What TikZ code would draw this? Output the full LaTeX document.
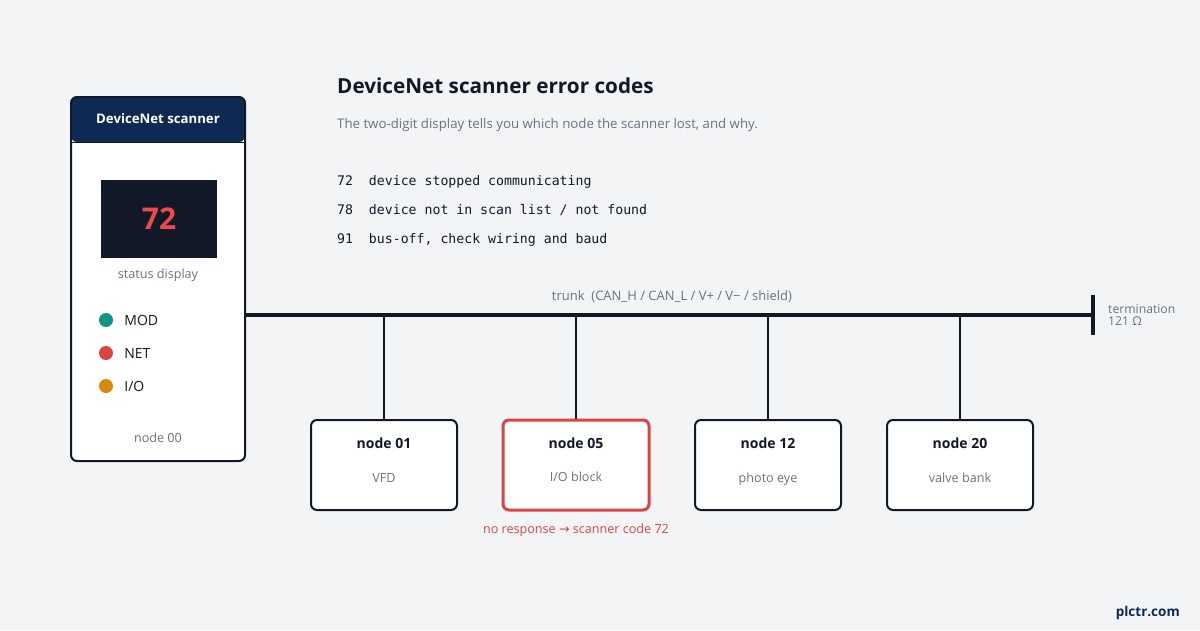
\documentclass[tikz,border=0pt]{standalone}
\usepackage{fontspec}
\setmainfont{Open Sans}
\setmonofont{DejaVu Sans Mono}
\newfontfamily\symfont{DejaVu Sans}
\usetikzlibrary{positioning,calc}
\definecolor{bgc}{HTML}{F3F4F6}
\definecolor{ink}{HTML}{111827}
\definecolor{navy}{HTML}{0F2A52}
\definecolor{mute}{HTML}{6B7280}
\definecolor{alert}{HTML}{DC4444}
\definecolor{digit}{HTML}{F04848}
\definecolor{ledteal}{HTML}{0F9582}
\definecolor{ledamber}{HTML}{D98A0C}
\newcommand{\fsz}[1]{\fontsize{#1}{#1}\selectfont}

\begin{document}
\begin{tikzpicture}[
  x=1pt, y=-1pt,
  txt/.style={inner sep=0pt, text=ink, font=\fsz{#1}},
  txt/.default=14,
  note/.style={inner sep=0pt, text=mute, font=\fsz{12.6}, text height=14pt, text depth=3pt},
  nbox/.style={draw=ink, line width=2pt, rounded corners=6pt, fill=white, minimum width=146pt, minimum height=90pt},
  nboxerr/.style={nbox, draw=alert, line width=3pt},
  led/.style={circle, fill=#1, minimum size=14pt, inner sep=0pt},
  trunk/.style={ink, line width=4pt},
  drop/.style={ink, line width=2pt}]
\useasboundingbox[fill=bgc] (0,0) rectangle (1200,630);
\node[draw=ink, line width=2pt, rounded corners=6pt, fill=white, minimum width=174pt, minimum height=364pt,
  path picture={\fill[navy] (path picture bounding box.north west) rectangle ([yshift=-45pt]path picture bounding box.north east);
    \draw[ink, line width=1pt] ([yshift=-45pt]path picture bounding box.north west) -- ([yshift=-45pt]path picture bounding box.north east);}]
  (scanner) at (158,279) {};
\node[txt, text=white, font=\fsz{13.2}\bfseries] (hdr) at (158,119) {DeviceNet scanner};
\node[fill=ink, minimum width=116pt, minimum height=78pt] (disp) at (159,219) {};
\node[text=digit, font=\fsz{30}\bfseries, inner sep=0pt] (code) at (disp) {72};
\node[note] (dlbl) at (158,272.5) {status display};
\foreach \lbl/\col [count=\i] in {MOD/ledteal, NET/alert, {I/O}/ledamber}
  \node[led=\col] (led\i) at (106,287+33*\i) {};
\foreach \lbl [count=\i] in {MOD, NET, {I/O}}
  \node[txt, anchor=west, right=11pt of led\i, text height=13pt, text depth=3pt] (ledl\i) {\lbl};
\node[note] (addr) at (158,436.5) {node 00};

\node[txt=20, anchor=west, font=\fsz{20.7}\bfseries] (title) at (337,86) {DeviceNet scanner error codes};
\node[note, anchor=west, font=\fsz{13.25}] (sub) at (337,122.5) {The two-digit display tells you which node the scanner lost, and why.};
\foreach \cd/\txt [count=\i] in {72/device stopped communicating, 78/{device not in scan list / not found}, 91/{bus-off, check wiring and baud}}
  \node[txt, anchor=west, font=\fsz{13.2}\ttfamily, text height=12pt, text depth=3pt] (err\i) at (337,151.5+29*\i) {\cd~~\txt};

\node[minimum width=0pt, minimum height=40pt, inner sep=0pt] (term) at (1093,315) {};
\draw[trunk] (scanner.east|-term) -- (term.center);
\draw[ink, line width=4pt] (term.north) -- (term.south);
\node[note, anchor=west, align=left, font=\fsz{12.2}, text height=, text depth=] (termlbl) at (1108,315) {termination\\[-1pt]121 Ω};
\node[note, font=\fsz{13}] (trunklbl) at (672,294.5) {trunk~~(CAN\_H / CAN\_L / V+ / V− / shield)};

\foreach \num/\desc/\x/\st in {01/VFD/384/nbox, 05/{I/O block}/576/nboxerr, 12/photo eye/768/nbox, 20/valve bank/960/nbox} {
  \node[\st] (n\num) at (\x,465) {};
  \draw[drop] (n\num.north|-term) -- (n\num.north);
  \node[txt, font=\fsz{14}\bfseries] (n\num t) at ([yshift=-24.5pt]n\num.north) {node \num};
  \node[note] (n\num d) at ([yshift=-57.5pt]n\num.north) {\desc};
}
\node[note, text=alert] (fault) at (576,527.5) {no response {\symfont →} scanner code 72};
\node[txt, text=navy, font=\fsz{13.5}\bfseries, anchor=east] (brand) at (1180,613) {plctr.com};
\end{tikzpicture}
\end{document}
